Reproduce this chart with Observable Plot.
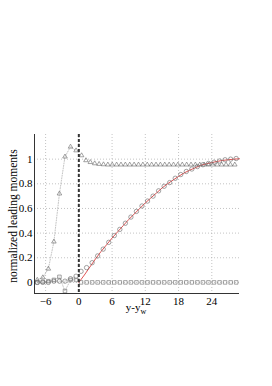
<!DOCTYPE html>
<html>
<head>
<meta charset="utf-8">
<script src="https://cdn.jsdelivr.net/npm/d3@7"></script>
<script src="https://cdn.jsdelivr.net/npm/@observablehq/plot@0.6"></script>
<style>
  html, body { margin: 0; padding: 0; background: #fff; }
</style>
</head>
<body>
<div id="chart"></div>
<script>
// ---- data ----
const xTicks = [-6, 0, 6, 12, 18, 24];
const yTicks = [0, 0.2, 0.4, 0.6, 0.8, 1];

// region y - y_w < 0 (connected with dotted lines)
const xLeft    = [-7.5, -6.5, -5.5, -4.5, -3.5, -2.5, -1.5, -0.5];
const triLeft  = [0.02, 0.04, 0.11, 0.33, 0.72, 1.02, 1.10, 1.07];
const circLeft = [0.0, 0.0, 0.0, 0.01, 0.01, 0.01, 0.03, 0.05];
const sqLeft   = [0.0, 0.005, 0.01, 0.02, 0.045, -0.07, 0.02, 0.02];

// region y - y_w > 0
const triX = [0.5,1.29,2.08,2.87,3.66,4.45,5.24,6.03,6.82,7.61,8.4,9.19,9.98,10.77,11.56,12.35,13.14,13.93,14.72,15.51,16.3,17.09,17.88,18.67,19.46,20.25,21.04,21.83,22.62,23.41,24.2,24.99,25.78,26.57,27.36,28.15];
const triY = [1.03,0.99,0.975,0.965,0.96,0.957,0.955,0.955,0.955,0.955,0.955,0.955,0.955,0.955,0.955,0.955,0.955,0.955,0.955,0.955,0.955,0.955,0.955,0.955,0.955,0.955,0.955,0.955,0.955,0.955,0.955,0.955,0.955,0.955,0.955,0.955];

const circX = [0.4,1.4,2.4,3.4,4.4,5.4,6.4,7.4,8.4,9.4,10.4,11.4,12.4,13.4,14.4,15.4,16.4,17.4,18.4,19.4,20.4,21.4,22.4,23.4,24.4,25.4,26.4,27.4,28.4];
const circY = [0.09,0.12,0.16,0.215,0.27,0.325,0.38,0.43,0.48,0.53,0.576,0.62,0.66,0.70,0.743,0.78,0.81,0.845,0.875,0.90,0.92,0.94,0.955,0.965,0.975,0.985,0.995,1.0,1.005];

const sqX = [0.4,1.4,2.4,3.4,4.4,5.4,6.4,7.4,8.4,9.4,10.4,11.4,12.4,13.4,14.4,15.4,16.4,17.4,18.4,19.4,20.4,21.4,22.4,23.4,24.4,25.4,26.4,27.4,28.4];
const sqY = [0,0,0,0,0,0,0,0,0,0,0,0,0,0,0,0,0,0,0,0,0,0,0,0,0,0,0,0,0];

// red reference curve
const redX = [0,1,2,3,4,5,6,7,8,9,10,11,12,13,14,15,16,17,18,19,20,21,22,23,24,25,26,27,28,29];
const redY = [0,0.06,0.125,0.19,0.25,0.305,0.36,0.41,0.46,0.51,0.555,0.6,0.645,0.685,0.725,0.765,0.8,0.83,0.86,0.888,0.91,0.93,0.95,0.962,0.972,0.982,0.99,0.995,1.0,1.003];

// ---- build tables ----
const zipXY = (xs, ys) => xs.map((x, i) => ({x, y: ys[i]}));
const triL = zipXY(xLeft, triLeft), circL = zipXY(xLeft, circLeft), sqL = zipXY(xLeft, sqLeft);
const triR = zipXY(triX, triY), circR = zipXY(circX, circY), sqR = zipXY(sqX, sqY);
const red = zipXY(redX, redY);

const markStroke = "#666";
const dotted = {x: "x", y: "y", stroke: "#aaa", strokeWidth: 0.7, strokeDasharray: "1,1.5"};

const chart = Plot.plot({
  width: 272,
  height: 386,
  marginLeft: 34,
  marginRight: 33,
  marginTop: 134,
  marginBottom: 93,
  style: {fontFamily: "'Liberation Serif', serif", fontSize: "11px", background: "#fff", color: "#000"},
  x: {domain: [-8, 29]},
  y: {domain: [-0.09, 1.2]},
  marks: [
    Plot.gridX(xTicks, {stroke: "#aaa", strokeOpacity: 1, strokeDasharray: "1,2", strokeWidth: 0.7}),
    Plot.gridY(yTicks, {stroke: "#aaa", strokeOpacity: 1, strokeDasharray: "1,2", strokeWidth: 0.7}),
    Plot.line(triL, dotted),
    Plot.line(circL, dotted),
    Plot.line(sqL, dotted),
    Plot.line(red, {x: "x", y: "y", stroke: "#e05555", strokeWidth: 1}),
    Plot.dot(triL.concat(triR), {x: "x", y: "y", symbol: "triangle", r: 1.7, stroke: markStroke, strokeWidth: 0.6, fill: "none"}),
    Plot.dot(sqL.concat(sqR), {x: "x", y: "y", symbol: "square", r: 2.0, stroke: markStroke, strokeWidth: 0.6, fill: "none"}),
    Plot.dot(circL.concat(circR), {x: "x", y: "y", symbol: "circle", r: 2.2, stroke: markStroke, strokeWidth: 0.6, fill: "none"}),
    Plot.ruleX([0], {stroke: "#333", strokeWidth: 2, strokeDasharray: "3,2"}),
    Plot.ruleX([-8], {stroke: "#000", strokeWidth: 0.8}),
    Plot.ruleY([-0.09], {stroke: "#000", strokeWidth: 0.8}),
    Plot.axisX({ticks: xTicks, tickSize: 0, tickPadding: 4, label: null, fontSize: 11}),
    Plot.axisY({ticks: yTicks, tickSize: 0, tickPadding: 2, label: null, fontSize: 11, tickFormat: d => String(d)})
  ]
});

document.getElementById("chart").appendChild(chart);

const svg = d3.select(chart);
const xl = svg.append("text")
  .attr("x", 136).attr("y", 311)
  .attr("text-anchor", "middle")
  .attr("font-family", "'Liberation Serif', serif")
  .attr("font-size", 11)
  .attr("fill", "#000");
xl.append("tspan").text("y-y");
xl.append("tspan").attr("dy", 3).attr("font-size", 8).text("w");

svg.append("text")
  .attr("transform", "translate(17,216) rotate(-90)")
  .attr("text-anchor", "middle")
  .attr("font-family", "'Liberation Serif', serif")
  .attr("font-size", 11.5)
  .attr("fill", "#000")
  .text("normalized leading moments");
</script>
</body>
</html>
